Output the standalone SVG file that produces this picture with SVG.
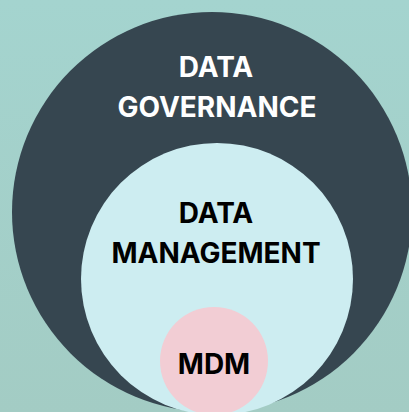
<svg xmlns="http://www.w3.org/2000/svg" width="409" height="412" viewBox="0 0 409 412">
  <defs>
    <linearGradient id="bg" x1="0" y1="0" x2="0" y2="1">
      <stop offset="0" stop-color="#a4d4cf"/>
      <stop offset="1" stop-color="#a3ccc4"/>
    </linearGradient>
  </defs>
  <style>
    .lbl { font-family: Inter, "Liberation Sans", sans-serif; font-weight: 700; font-size: 28px; text-anchor: middle; }
    .light { fill: #ffffff; }
    .dark { fill: #000000; }
  </style>
  <rect width="409" height="412" fill="url(#bg)"/>
  <g id="governance">
    <circle cx="212" cy="212" r="200" fill="#364650"/>
    <text class="lbl light" x="216" y="77">DATA</text>
    <text class="lbl light" x="217" y="117">GOVERNANCE</text>
  </g>
  <g id="management">
    <circle cx="217" cy="279" r="136" fill="#cdedf1"/>
    <text class="lbl dark" x="216" y="223">DATA</text>
    <text class="lbl dark" x="216" y="263">MANAGEMENT</text>
  </g>
  <g id="mdm">
    <circle cx="214" cy="361" r="54" fill="#f2cdd4"/>
    <text class="lbl dark" x="214" y="374">MDM</text>
  </g>
  <g id="connectors"/>
</svg>
